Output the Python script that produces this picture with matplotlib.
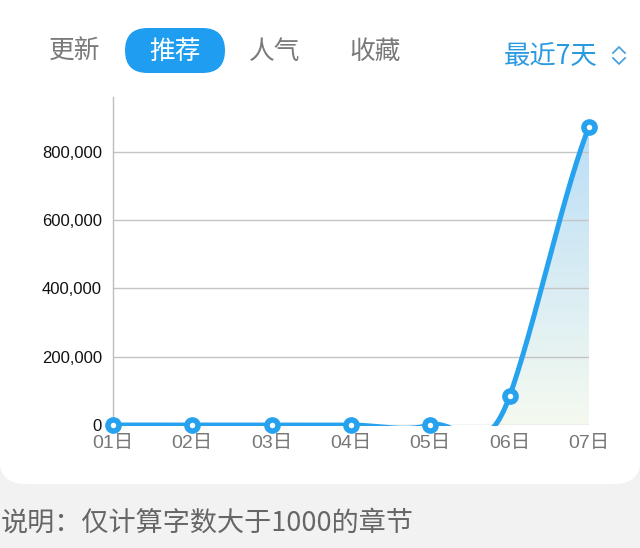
import numpy as np
import matplotlib.pyplot as plt
from matplotlib.patches import FancyBboxPatch, Rectangle
from matplotlib.lines import Line2D

plt.rcParams['font.family'] = ['Liberation Sans', 'Noto Sans CJK SC', 'DejaVu Sans']

# data
days = ['01日', '02日', '03日', '04日', '05日', '06日', '07日']
values = [0, 0, 0, 0, 0, 85000, 873000]
yticks = [0, 200000, 400000, 600000, 800000]
tabs = ['更新', '推荐', '人气', '收藏']
active_tab = 1
range_label = '最近7天'
note = '说明：仅计算字数大于1000的章节'

BLUE = '#27a2ee'
W, H = 640, 548


def cardinal(y, k=1.5, n=80):
    # smooth curve through the points (cardinal spline, tangents scaled by k)
    y = np.asarray(y, dtype=float)
    ext = np.concatenate([[y[0]], y, [y[-1]]])
    xs, ys = [], []
    for i in range(len(y) - 1):
        p0, p1, p2, p3 = ext[i], ext[i + 1], ext[i + 2], ext[i + 3]
        m1, m2 = k * (p2 - p0) / 2, k * (p3 - p1) / 2
        t = np.linspace(0, 1, n, endpoint=(i == len(y) - 2))
        h = ((2 * t**3 - 3 * t**2 + 1) * p1 + (t**3 - 2 * t**2 + t) * m1
             + (-2 * t**3 + 3 * t**2) * p2 + (t**3 - t**2) * m2)
        xs.append(i + t)
        ys.append(h)
    return np.concatenate(xs), np.concatenate(ys)


fig = plt.figure(figsize=(W / 100, H / 100), dpi=100)
fig.patch.set_facecolor('#f2f2f2')

# white card
card = FancyBboxPatch((-1, 64), W + 2, H + 40, boxstyle='round,pad=0,rounding_size=26',
                      transform=None, facecolor='white', edgecolor='none', zorder=-3)
fig.patches.append(card)


def fx(px):
    return px / W


def fy(py):
    return 1 - py / H


# tabs
tab_x = [75, 175, 275, 375]
for i, (name, x) in enumerate(zip(tabs, tab_x)):
    if i == active_tab:
        pill = FancyBboxPatch((x - 50, H - 73), 100, 45, boxstyle='round,pad=0,rounding_size=22.5',
                              transform=None, facecolor='#1f9df0', edgecolor='none', zorder=-2)
        fig.patches.append(pill)
        color = 'white'
    else:
        color = '#7a7a7a'
    fig.text(fx(x), fy(52), name, ha='center', va='center', fontsize=18.5,
             color=color, family=['Noto Sans CJK SC'])

fig.text(fx(598), fy(56), range_label, ha='right', va='center', fontsize=19,
         color='#2a9ae0', family=['Noto Sans CJK SC'])
# up/down chevron
for pts in ([(613, 53), (619, 47), (625, 53)], [(613, 58), (619, 64), (625, 58)]):
    fig.add_artist(Line2D([fx(p[0]) for p in pts], [fy(p[1]) for p in pts],
                          color='#4aa3dc', lw=1.3, transform=fig.transFigure))

fig.text(fx(1), fy(523), note, ha='left', va='center', fontsize=19.5,
         color='#666666', family=['Noto Sans CJK SC'])

# chart
ax = fig.add_axes([fx(113), fy(425), fx(589) - fx(113), (425 - 97) / H])
ax.set_facecolor('none')

for s in ['top', 'right', 'bottom']:
    ax.spines[s].set_visible(False)
ax.spines['left'].set_color('#bdbdbd')
ax.spines['left'].set_linewidth(1)

for v in yticks:
    ax.axhline(v, color='#c4c4c4', lw=1, zorder=2)

xs, ys = cardinal(values)

# gradient fill under the curve
fill = ax.fill_between(xs, np.maximum(ys, 0), 0, facecolor='none', edgecolor='none')
top_c = np.array([0.73, 0.87, 0.97])
bot_c = np.array([0.96, 0.98, 0.94])
g = np.linspace(0, 1, 256)[:, None]
grad = (bot_c + (top_c - bot_c) * g)[:, None, :] * np.ones((1, 2, 1))
im = ax.imshow(grad, extent=[0, len(days) - 1, 0, max(values)], origin='lower',
               aspect='auto', zorder=1)
im.set_clip_path(fill.get_paths()[0], transform=ax.transData)
ax.set_xlim(0, len(days) - 1)
ax.set_ylim(0, 960000)

# curve clipped a little below the baseline, like the plot area of the original
line, = ax.plot(xs, ys, color=BLUE, lw=3.6, zorder=3, solid_capstyle='butt')
line.set_clip_path(Rectangle((-1, -3000), len(days) + 1, 2e6, transform=ax.transData))
line.set_clip_on(True)
ax.plot(range(len(days)), values, 'o', ms=8, mew=4, mec=BLUE, mfc='white',
        zorder=4, clip_on=False)

ax.set_xticks(range(len(days)))
ax.set_xticklabels(days, fontsize=14, color='#777777')
ax.set_yticks(yticks)
ax.set_yticklabels([f'{v:,}' for v in yticks], fontsize=12, color='#111111')
ax.tick_params(axis='x', length=0, pad=7)
ax.tick_params(axis='y', length=0, pad=8)

fig.savefig('out.png', dpi=100)
